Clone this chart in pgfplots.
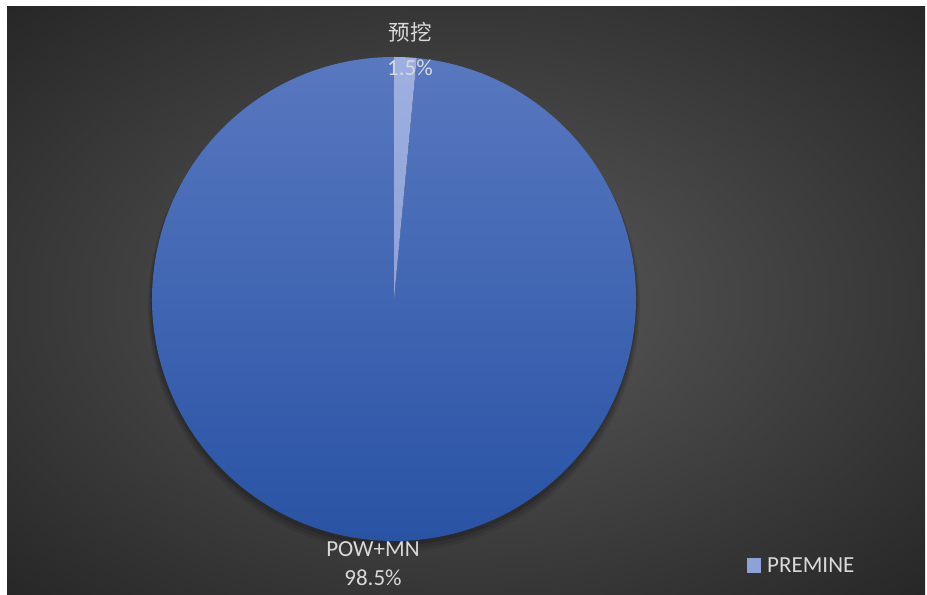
\documentclass[border=0pt]{standalone}
\usepackage{pgfplots}
\pgfplotsset{compat=1.18}
\usepackage{pgfplotstable}
\usepackage{fontspec}
\setmainfont{Carlito}
\newfontfamily\cjk{Noto Sans CJK SC}
\definecolor{bgC}{HTML}{5A5A5A}
\definecolor{bgM}{HTML}{363636}
\definecolor{bgE}{HTML}{262626}
\definecolor{pieTop}{HTML}{5878C0}
\definecolor{pieBot}{HTML}{2852A4}
\definecolor{sliceA}{HTML}{9EB0E0}
\definecolor{sliceAd}{HTML}{8EA2D8}
\definecolor{txt}{HTML}{D9D9D9}
\pgfdeclareradialshading{bgshade}{\pgfpointorigin}{color(0bp)=(bgC); color(25bp)=(bgM); color(36bp)=(bgE); color(50bp)=(bgE)}
\tikzset{lbl/.style={font=\fontsize{23bp}{27bp}\selectfont, text=txt, inner sep=0pt},
         clbl/.style={font=\fontsize{21.5bp}{26bp}\selectfont\cjk, text=txt, inner sep=0pt}}
\pgfplotstableread{
label value
premine 1.5
powmn 98.5
}\piedata
\begin{document}
\begin{tikzpicture}
\pgfplotstablegetelem{0}{value}\of\piedata \global\let\va\pgfplotsretval
\pgfplotstablegetelem{1}{value}\of\piedata \global\let\vb\pgfplotsretval
\pgfmathsetmacro\angA{90-3.6*\va}
\pgfmathsetmacro\angB{\angA-3.6*\vb}
\begin{axis}[hide axis, scale only axis, x=1bp, y=1bp,
  xmin=0, xmax=927, ymin=0, ymax=595, clip=false]
\fill[white] (axis cs:0,0) rectangle (axis cs:927,595);
\shade[shading=bgshade] (axis cs:7,0) rectangle (axis cs:925,588);
% soft shadow
\fill[black,opacity=0.08] (axis cs:394,289) circle[radius=246bp];
\fill[black,opacity=0.10] (axis cs:394,290.5) circle[radius=244.5bp];
\fill[black,opacity=0.14] (axis cs:394,292.5) circle[radius=243bp];
% slices
\shade[top color=pieTop, bottom color=pieBot] (axis cs:394,296) -- ++(\angA:242bp) arc[start angle=\angA, end angle=\angB, radius=242bp] -- cycle;
\shade[top color=sliceA, bottom color=sliceAd] (axis cs:394,296) -- ++(90:242bp) arc[start angle=90, end angle=\angA, radius=242bp] -- cycle;
% labels
\node[clbl] at (axis cs:410,563) {预挖};
\node[lbl] at (axis cs:410,527) {1.5\%};
\node[lbl] at (axis cs:373,46) {POW+MN};
\node[lbl] at (axis cs:373,17) {98.5\%};
% legend
\fill[sliceAd] (axis cs:747,22) rectangle (axis cs:761,37);
\node[lbl, anchor=west] at (axis cs:767,30) {PREMINE};
\end{axis}
\end{tikzpicture}
\end{document}
